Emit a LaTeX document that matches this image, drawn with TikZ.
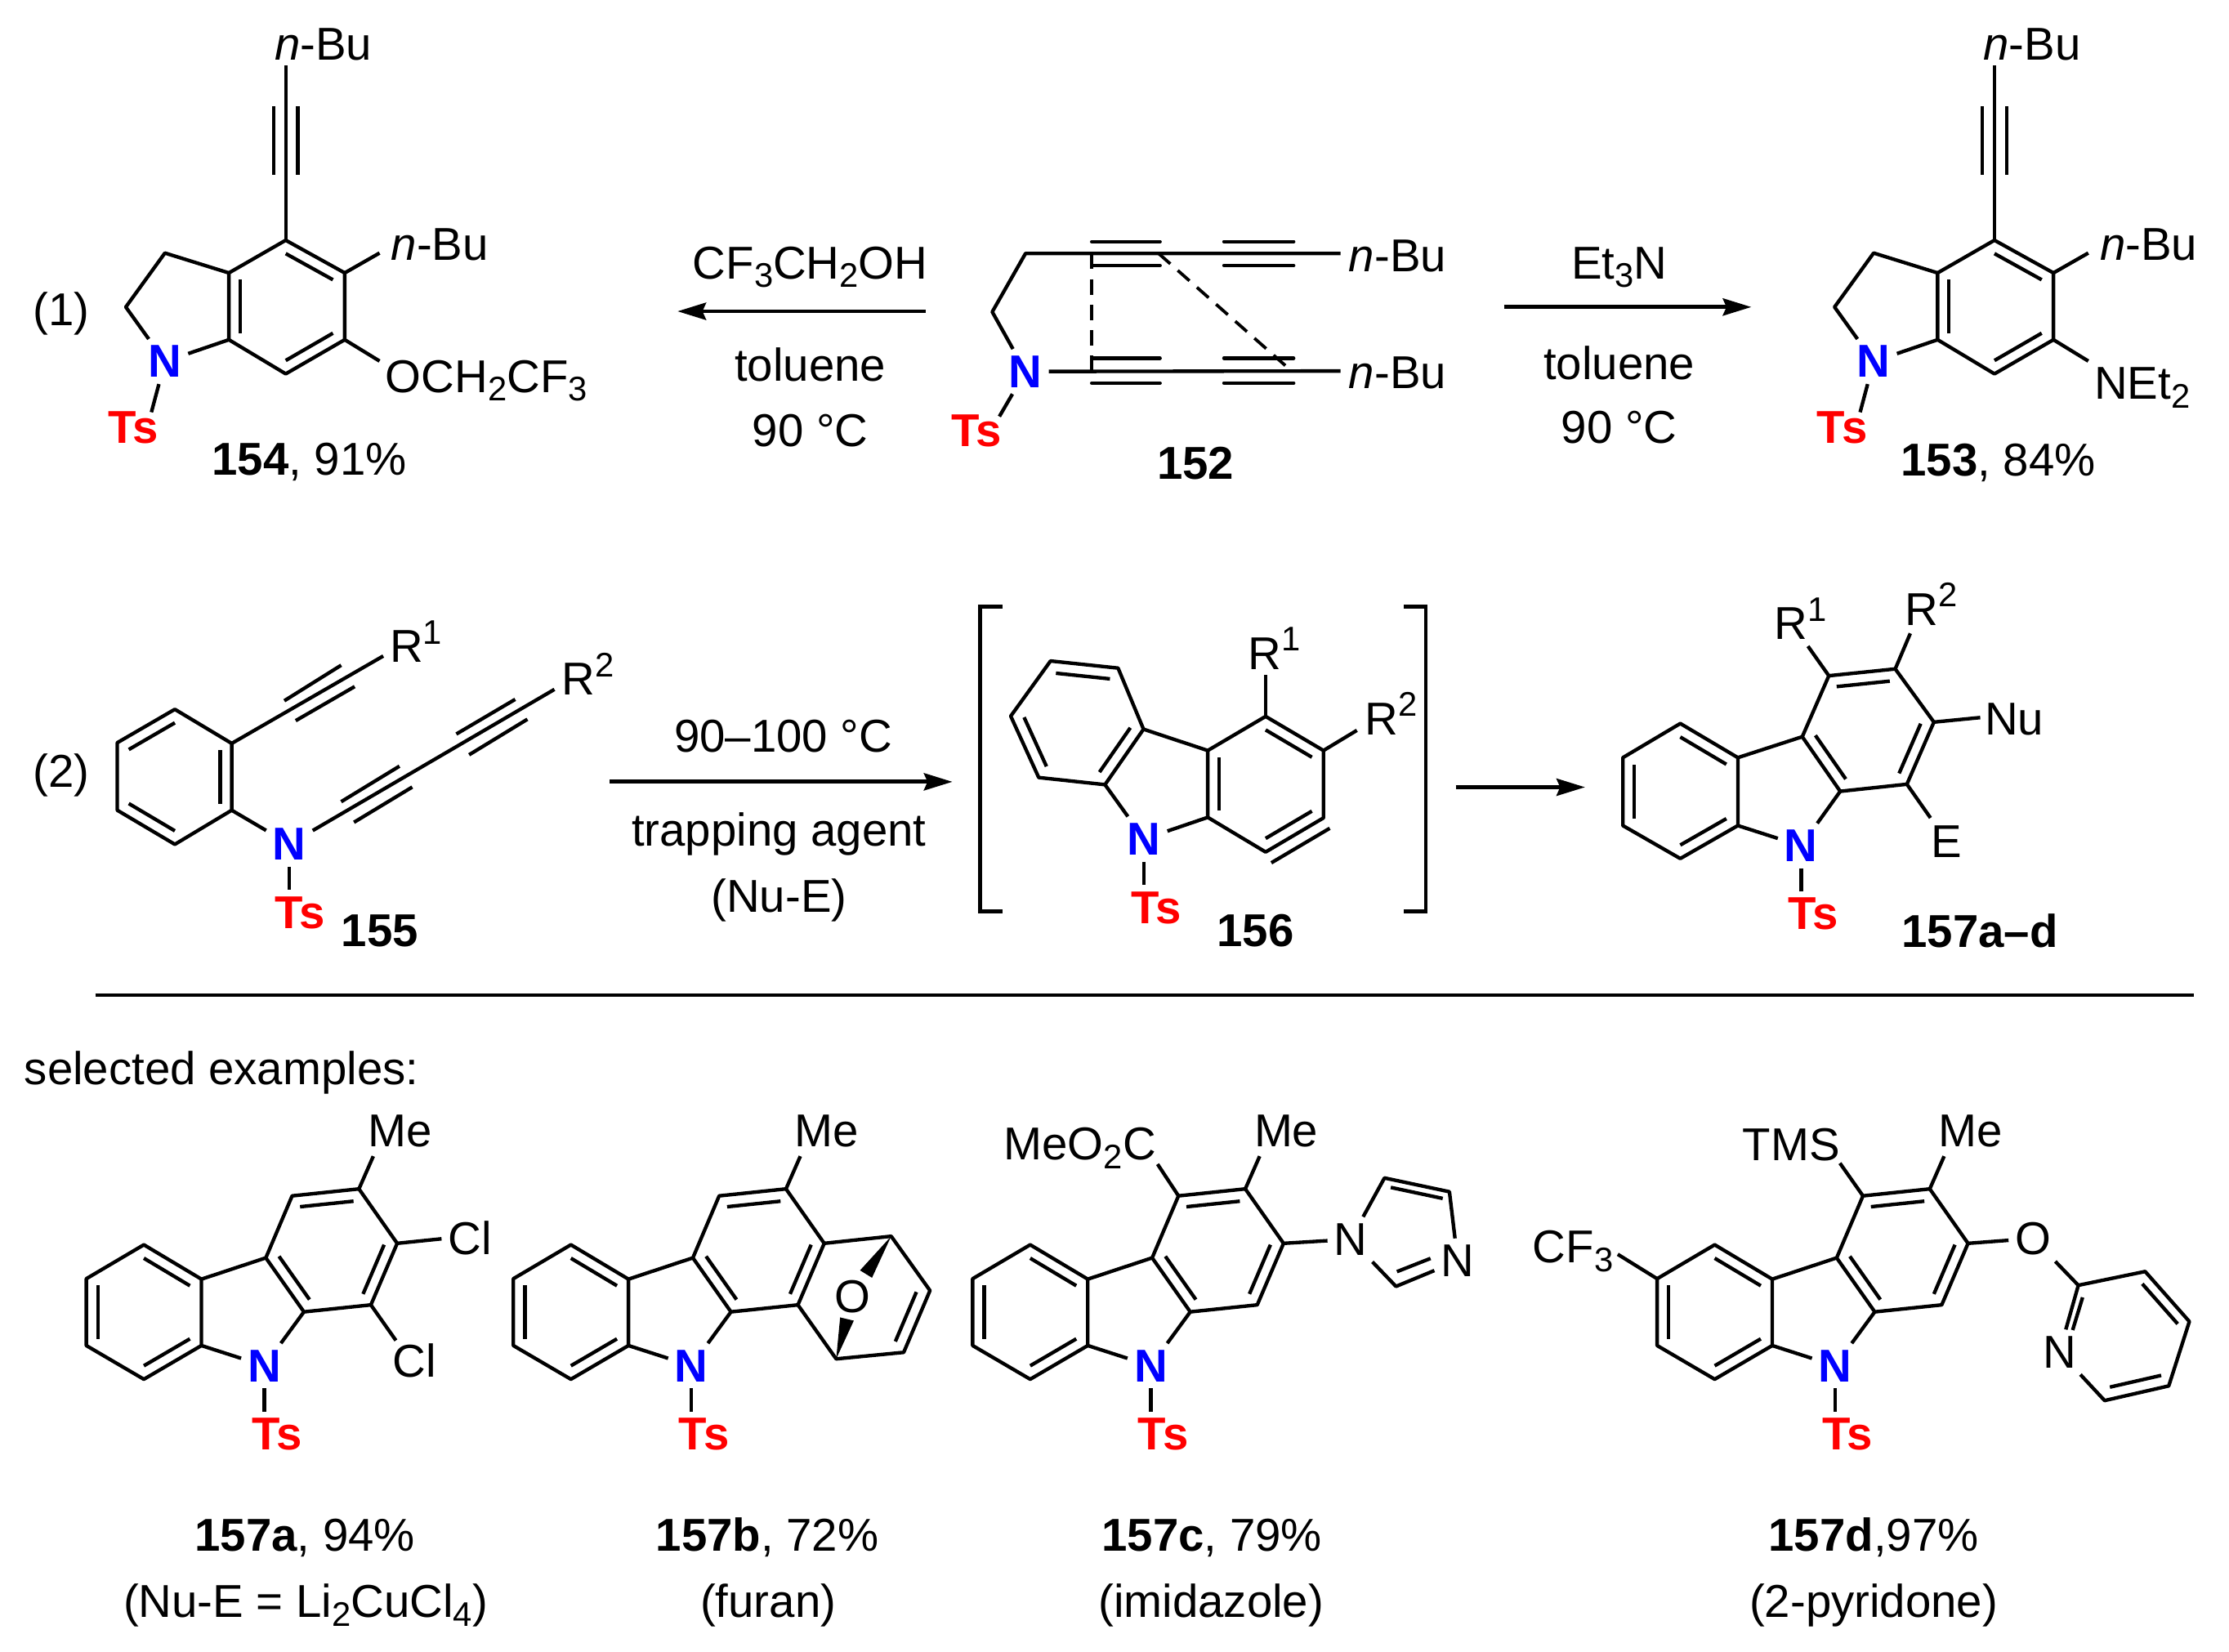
\documentclass[tikz,border=0pt]{standalone}
\usepackage{fontspec}
\setmainfont{Liberation Sans}
\usetikzlibrary{arrows.meta,calc}
\newcommand{\bigfont}{\fontsize{32.4}{38}\selectfont}
\newcommand{\lowtxt}[1]{\raisebox{-6pt}{\fontsize{24}{24}\selectfont #1}}
\newcommand{\hightxt}[1]{\raisebox{13pt}{\fontsize{24}{24}\selectfont #1}}
\newcommand{\atoms}[1]{\foreach \n/\x/\y in {#1} {\coordinate (\n) at (\x,\y);}}
\newcommand{\dbl}[3]{\draw[bond] ($(#1)!.2!(#3)$) -- ($(#2)!.2!(#3)$);}
\newcommand{\indoline}{
    \atoms{ta/201/46, tl1/192.5/75, tl2/192.5/123, tr1/209.5/75, tr2/209.5/123,
        a/201/169, b/242.5/192, c/242.5/239, d/201/263, e/161/239, f/161/192, z/201/216,
        g/116/178, h/88.5/216, tsend/106.5/290, buend/267/178, oend/267/254}
    \node[nitro] (nit) at (116,265.5) {N};
    \node[tosyl] (tos) at (76,312) {Ts};
    \node[txt] (butop) at (193,42) {\textit{n}-Bu};
    \node[txt] (buside) at (275,183) {\textit{n}-Bu};
    \draw[bond] (ta) -- (a);
    \draw[bond] (a) -- (b) -- (c) -- (d) -- (e) -- (f) -- cycle;
    \draw[bond] (tl1) -- (tl2);
    \draw[bond] (tr1) -- (tr2);
    \dbl{a}{b}{z}
    \dbl{c}{d}{z}
    \dbl{e}{f}{z}
    \draw[bond] (f) -- (g) -- (h) -- (nit) -- (e);
    \draw[bond] (nit) -- (tsend);
    \draw[bond] (b) -- (buend);
    \draw[bond] (c) -- (oend);
}
\newcommand{\carbazole}{
    \atoms{ba/101.2/875.7, bb/141.7/899.9, bc/141.7/946.6, bd/101.2/970.3, be/60.7/946.6, bf/60.7/899.6, bz/101.2/923,
        ra/187/884.9, rb/205.5/841.3, rc/252.5/836.4, rd/279.4/874.7, re/260.9/918, rf/213.8/922.9, rz/233.4/879.6,
        meend/262.6/813.4, tsend/186/993.3}
    \node[nitro] (nit) at (186,972) {N};
    \node[tosyl] (tos) at (176.9,1020) {Ts};
    \node[txt] (me) at (258.6,806.6) {Me};
    \draw[bond] (ba) -- (bb) -- (bc) -- (bd) -- (be) -- (bf) -- cycle;
    \draw[bond] (bb) -- (ra) -- (rb) -- (rc) -- (rd) -- (re) -- (rf) -- (ra);
    \dbl{ba}{bb}{bz}
    \dbl{bc}{bd}{bz}
    \dbl{be}{bf}{bz}
    \dbl{rb}{rc}{rz}
    \dbl{rd}{re}{rz}
    \dbl{ra}{rf}{rz}
    \draw[bond] (bc) -- (nit) -- (rf);
    \draw[bond] (nit) -- (tsend);
    \draw[bond] (rc) -- (meend);
}
\tikzset{
    >={Stealth[length=20pt,width=12pt,inset=2.5pt]},
    bond/.style={line width=2.5pt,line join=round},
    rxn/.style={line width=2.8pt},
    txt/.style={inner sep=0pt,anchor=base west,font=\bigfont},
    ctr/.style={txt,anchor=base},
    atom/.style={ctr,inner sep=4.5pt},
    nitro/.style={atom,text=blue,font=\bigfont\bfseries},
    tosyl/.style={txt,text=red,font=\bigfont\bfseries},
}
\begin{document}
\begin{tikzpicture}[x=1pt,y=-1pt]
    \useasboundingbox (0,0) rectangle (1568,1162.1);

    \begin{scope}[name prefix=p154-]
        \indoline
        \node[txt] (och) at (271,276) {OCH\lowtxt{2}CF\lowtxt{3}};
        \node[txt] (lab) at (149,334) {\textbf{154}, 91\%};
    \end{scope}
    \begin{scope}[name prefix=p153-,xshift=1202pt]
        \indoline
        \node[txt] (net) at (271,281) {NEt\lowtxt{2}};
        \node[txt] (lab) at (135,335) {\textbf{153}, 84\%};
    \end{scope}
    \node[txt] (eqone) at (23,229) {(1)};

    \begin{scope}[name prefix=p152-]
        \atoms{a/721.4/178.3, b/698/219.4, e1/943/178.3, e2/943/261, u1/768/170, u2/816/170, u3/861/170, u4/910/170,
            v1/768/186.8, v2/816/186.8, v3/861/186.8, v4/910/186.8, w1/768/252, w2/816/252, w3/861/252, w4/910/252,
            y1/768/269.5, y2/816/269.5, y3/861/269.5, y4/910/269.5, d1/768/178.3, d2/768/261, d3/815/178.3, d4/908.5/261,
            tsend/703/293}
        \node[nitro] (nit) at (721.4,272.5) {N};
        \node[tosyl] (tos) at (669,314) {Ts};
        \node[txt] (bua) at (948.7,191) {\textit{n}-Bu};
        \node[txt] (bub) at (948.7,273.5) {\textit{n}-Bu};
        \node[ctr] (lab) at (841,337) {\textbf{152}};
        \draw[bond] (e1) -- (a) -- (b) -- (nit) -- (e2);
        \draw[bond] (nit) -- (tsend);
        \foreach \p/\q in {u1/u2,u3/u4,v1/v2,v3/v4,w1/w2,w3/w4,y1/y2,y3/y4} {
            \draw[bond,line cap=round] (\p) -- (\q);
        }
        \draw[line width=2.2pt,dash pattern=on 11pt off 7pt] (d1) -- (d2);
        \draw[line width=2.2pt,dash pattern=on 11pt off 7pt] (d3) -- (d4);
    \end{scope}

    \atoms{as/651/219, at/476.6/219, bs/1058/216, bt/1232/216, cs/429/550, ct/670/550, ds/1024/553.8, dt/1115/553.8,
        ruleA/67/700, ruleB/1543/700}
    \draw[->,rxn] (as) -- (at);
    \draw[->,rxn] (bs) -- (bt);
    \draw[->,rxn] (cs) -- (ct);
    \draw[->,rxn] (ds) -- (dt);
    \draw[bond] (ruleA) -- (ruleB);
    \node[ctr] (cfa) at (570,196) {CF\lowtxt{3}CH\lowtxt{2}OH};
    \node[ctr] (tola) at (570,268) {toluene};
    \node[ctr] (tempa) at (570,314) {90 °C};
    \node[ctr] (eta) at (1139,196) {Et\lowtxt{3}N};
    \node[ctr] (tolb) at (1139,267) {toluene};
    \node[ctr] (tempb) at (1139,312) {90 °C};
    \node[ctr] (tempc) at (551,529) {90–100 °C};
    \node[ctr] (trap) at (548,595) {trapping agent};
    \node[ctr] (nue) at (548,642) {(Nu-E)};
    \node[txt] (eqtwo) at (23,554) {(2)};
    \node[txt] (sel) at (17,763) {selected examples:};

    \begin{scope}[name prefix=p155-]
        \atoms{a/123/499, b/163/523, c/163/570, d/123/594, e/82.5/570, f/82.5/522.5, z/123/546.5,
            r1/269.6/461.5, r2/390/485, s1/200/493, s2/240/468, s3/208/507, s4/249.5/483,
            t1/240/564, t2/281/539, t3/249/578.5, t4/290/553.7, t5/321/516.4, t6/362.4/492, t7/330/531, t8/371/506,
            tsend/203.6/626}
        \node[nitro] (nit) at (203.6,605) {N};
        \node[tosyl] (tos) at (193,653) {Ts};
        \node[txt] (lab) at (240,666) {\textbf{155}};
        \node[txt] (rone) at (274,466) {R\hightxt{1}};
        \node[txt] (rtwo) at (395,489) {R\hightxt{2}};
        \draw[bond] (a) -- (b) -- (c) -- (d) -- (e) -- (f) -- cycle;
        \dbl{a}{f}{z}
        \dbl{b}{c}{z}
        \dbl{d}{e}{z}
        \draw[bond] (b) -- (r1);
        \draw[bond] (c) -- (nit) -- (r2);
        \draw[bond] (nit) -- (tsend);
        \foreach \p/\q in {s1/s2,s3/s4,t1/t2,t3/t4,t5/t6,t7/t8} {
            \draw[bond] (\p) -- (\q);
        }
    \end{scope}

    \begin{scope}[name prefix=p156-]
        \atoms{ba/739/465, bb/786.5/470, bc/804.4/513, bd/777.3/552, be/730.7/547, bf/711/503.8, bz/758/508,
            ra/890.3/504, rb/931/528, rc/931/575.4, rd/890.3/599.4, re/849.6/575, rf/849.6/528, rz/890.3/551.5,
            ox1/935.4/582.7, ox2/894.3/607, rend/890.3/475, qend/954.5/513.8, tsend/804.8/622.5,
            la/705/426.7, lb/689.6/426.7, lc/689.6/641, ld/705/641, ma/987.5/426.7, mb/1003/426.7, mc/1003/641, md/987.5/641}
        \node[nitro] (nit) at (804.8,601.4) {N};
        \node[tosyl] (tos) at (795.6,649.5) {Ts};
        \node[txt] (lab) at (856,666) {\textbf{156}};
        \node[txt] (rone) at (878,471) {R\hightxt{1}};
        \node[txt] (rtwo) at (960,517) {R\hightxt{2}};
        \draw[bond] (ba) -- (bb) -- (bc) -- (bd) -- (be) -- (bf) -- cycle;
        \draw[bond] (bc) -- (rf) -- (ra) -- (rb) -- (rc) -- (rd) -- (re) -- (rf);
        \dbl{ba}{bb}{bz}
        \dbl{bc}{bd}{bz}
        \dbl{be}{bf}{bz}
        \dbl{ra}{rb}{rz}
        \dbl{rc}{rd}{rz}
        \dbl{re}{rf}{rz}
        \draw[bond] (ox1) -- (ox2);
        \draw[bond] (bd) -- (nit) -- (re);
        \draw[bond] (nit) -- (tsend);
        \draw[bond] (ra) -- (rend);
        \draw[bond] (rb) -- (qend);
        \draw[line width=2.8pt] (la) -- (lb) -- (lc) -- (ld);
        \draw[line width=2.8pt] (ma) -- (mb) -- (mc) -- (md);
    \end{scope}

    \begin{scope}[name prefix=p157-]
        \atoms{ba/1182/509, bb/1222.5/533, bc/1222.5/580.8, bd/1182/604, be/1141.6/580.8, bf/1141.6/533, bz/1182/556.5,
            ra/1267.8/518.3, rb/1286.5/475.4, rc/1333.2/470.6, rd/1360.4/508, re/1341.4/551.7, rf/1294.5/556.7, rz/1314/513.5,
            oneend/1271.8/454.6, twoend/1343.8/445.6, nuend/1393/504.8, eend/1358/575.4, tsend/1267/627.3}
        \node[nitro] (nit) at (1267,606.2) {N};
        \node[tosyl] (tos) at (1257.7,654) {Ts};
        \node[txt] (lab) at (1337.6,666.3) {\textbf{157a–d}};
        \node[txt] (rone) at (1248,450) {R\hightxt{1}};
        \node[txt] (rtwo) at (1340,440) {R\hightxt{2}};
        \node[txt] (nu) at (1396,517) {Nu};
        \node[txt] (el) at (1358.5,603) {E};
        \draw[bond] (ba) -- (bb) -- (bc) -- (bd) -- (be) -- (bf) -- cycle;
        \draw[bond] (bb) -- (ra) -- (rb) -- (rc) -- (rd) -- (re) -- (rf) -- (ra);
        \dbl{ba}{bb}{bz}
        \dbl{bc}{bd}{bz}
        \dbl{be}{bf}{bz}
        \dbl{rb}{rc}{rz}
        \dbl{rd}{re}{rz}
        \dbl{ra}{rf}{rz}
        \draw[bond] (bc) -- (nit) -- (rf);
        \draw[bond] (nit) -- (tsend);
        \draw[bond] (rb) -- (oneend);
        \draw[bond] (rc) -- (twoend);
        \draw[bond] (rd) -- (nuend);
        \draw[bond] (re) -- (eend);
    \end{scope}

    \begin{scope}[name prefix=pa-]
        \carbazole
        \atoms{clone/310.6/871.5, cltwo/278.5/943}
        \node[txt] (cla) at (315,882.4) {Cl};
        \node[txt] (clb) at (276,969) {Cl};
        \draw[bond] (rd) -- (clone);
        \draw[bond] (re) -- (cltwo);
        \node[ctr] (lab) at (214.5,1091) {\textbf{157a}, 94\%};
        \node[ctr] (sub) at (215,1138) {(Nu-E = Li\lowtxt{2}CuCl\lowtxt{4})};
    \end{scope}

    \begin{scope}[name prefix=pb-,xshift=300.4pt]
        \carbazole
        \atoms{ca/326.5/869.7, cb/353.8/907.9, cc/335.3/951.4, cd/287.8/956, z/306/913,
            wa/304.6/893.7, wb/313/898.9, wc/290.6/926.8, wd/300.2/929.1}
        \node[atom] (oxy) at (299.6,923.2) {O};
        \draw[bond] (rd) -- (ca) -- (cb) -- (cc) -- (cd) -- (re);
        \dbl{cb}{cc}{z}
        \fill (ca) -- (wa) -- (wb) -- cycle;
        \fill (cd) -- (wc) -- (wd) -- cycle;
        \node[ctr] (lab) at (239.4,1091) {\textbf{157b}, 72\%};
        \node[ctr] (sub) at (240,1138) {(furan)};
    \end{scope}

    \begin{scope}[name prefix=pc-,xshift=623.5pt]
        \carbazole
        \atoms{estend/190.8/819, c4/396.1/838.4, c5/350.4/828.7, c2/358.5/905, z/372.5/862, i1/359.2/894.6, i2/382.8/885.3}
        \node[txt] (ester) at (82.5,816) {MeO\lowtxt{2}C};
        \node[atom] (none) at (326.7,883) {N};
        \node[atom] (nthree) at (401.9,898.2) {N};
        \draw[bond] (rb) -- (estend);
        \draw[bond] (rd) -- (none) -- (c5) -- (c4) -- (nthree) -- (c2) -- (none);
        \dbl{c4}{c5}{z}
        \draw[bond] (i1) -- (i2);
        \node[ctr] (lab) at (229,1091) {\textbf{157c}, 79\%};
        \node[ctr] (sub) at (228.5,1138) {(imidazole)};
    \end{scope}

    \begin{scope}[name prefix=pd-,xshift=1105pt]
        \carbazole
        \atoms{cfend/33/882.4, tmsend/189.3/818.3, c2/357/904.2, c3/404/894.5, c4/435.1/929.7, c5/420.6/975, c6/375.5/985.3, z/394/938,
            i1/360/912.7, i2/353/935.7}
        \node[txt] (cf) at (-27,888.5) {CF\lowtxt{3}};
        \node[txt] (tms) at (120.6,816.3) {TMS};
        \node[atom] (oxy) at (325.2,882.4) {O};
        \node[atom] (nit2) at (343.7,962.3) {N};
        \draw[bond] (bf) -- (cfend);
        \draw[bond] (rb) -- (tmsend);
        \draw[bond] (rd) -- (oxy) -- (c2) -- (c3) -- (c4) -- (c5) -- (c6) -- (nit2) -- (c2);
        \dbl{c3}{c4}{z}
        \dbl{c5}{c6}{z}
        \draw[bond] (i1) -- (i2);
        \node[ctr] (lab) at (213,1091) {\textbf{157d},97\%};
        \node[ctr] (sub) at (213,1138) {(2-pyridone)};
    \end{scope}
\end{tikzpicture}
\end{document}
